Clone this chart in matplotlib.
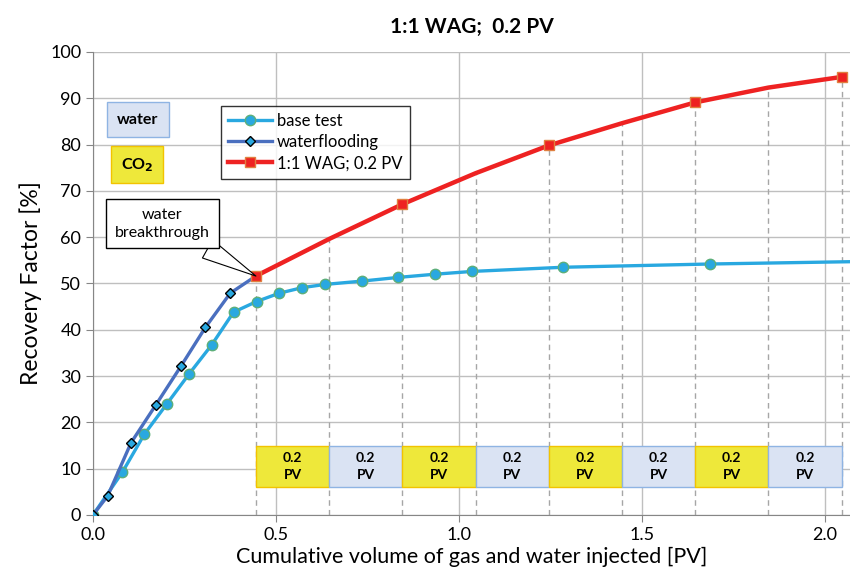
import matplotlib.pyplot as plt

plt.rcParams['font.family'] = ['Lato', 'DejaVu Sans']

# base test (cyan circles)
base_x = [0.0, 0.080, 0.140, 0.201, 0.263, 0.324, 0.384, 0.447, 0.509, 0.572, 0.635,
          0.734, 0.833, 0.935, 1.036, 1.285, 1.686, 2.07]
base_y = [0.0, 9.2, 17.4, 23.9, 30.5, 36.7, 43.8, 46.1, 47.9, 49.1, 49.8,
          50.5, 51.3, 52.0, 52.6, 53.5, 54.2, 54.7]

# waterflooding (diamonds) up to breakthrough
wf_x = [0.0, 0.040, 0.104, 0.172, 0.240, 0.307, 0.375, 0.445]
wf_y = [0.0, 4.1, 15.6, 23.8, 32.1, 40.5, 47.9, 51.6]

# 1:1 WAG, values at every slug boundary (markers every 0.4 PV)
wag_x = [0.445, 0.645, 0.845, 1.045, 1.245, 1.445, 1.645, 1.845, 2.045]
wag_y = [51.6, 59.6, 67.1, 73.8, 79.8, 84.6, 89.1, 92.3, 94.6]

slug_fluid = ['CO2', 'water', 'CO2', 'water', 'CO2', 'water', 'CO2', 'water']
slug_label = '0.2\nPV'

fill = {'CO2': '#EEE83A', 'water': '#DAE3F3'}
edge = {'CO2': '#F2C300', 'water': '#8FB4E3'}

fig = plt.figure(figsize=(8.5, 5.77), dpi=100)
ax = fig.add_axes([0.1094, 0.1075, 0.8906, 0.8025])

# dashed lines at slug boundaries, up to the WAG curve
for x, y in zip(wag_x, wag_y):
    ax.plot([x, x], [0, y], ls=(0, (4, 3)), color='#A6A6A6', lw=1, zorder=1)

# slug boxes
for i, fl in enumerate(slug_fluid):
    x0, x1 = wag_x[i], wag_x[i + 1]
    ax.add_patch(plt.Rectangle((x0, 6), x1 - x0, 9, facecolor=fill[fl],
                               edgecolor=edge[fl], lw=1, zorder=2))
    ax.text((x0 + x1) / 2, 10.5, slug_label, ha='center', va='center',
            fontsize=10, fontweight='bold', linespacing=1.45, zorder=3)

ax.plot(base_x, base_y, color='#29A8E0', lw=2.4, marker='o', ms=7.5,
        mfc='#29A8E0', mec='#5DAF7A', mew=1, markevery=list(range(len(base_x) - 1)),
        label='base test', zorder=4)
ax.plot(wf_x, wf_y, color='#4A6FBF', lw=2.4, marker='D', ms=5.5,
        mfc='#29A8E0', mec='black', mew=1, markevery=list(range(len(wf_x) - 1)),
        label='waterflooding', zorder=5)
ax.plot(wag_x, wag_y, color='#EE2222', lw=3.2, marker='s', ms=7.5,
        mfc='#EE2222', mec='#E08040', mew=1, markevery=2,
        label='1:1 WAG; 0.2 PV', zorder=6)

ax.set_xlim(0, 2.068)
ax.set_ylim(0, 100)
ax.set_xticks([0.0, 0.5, 1.0, 1.5, 2.0])
ax.set_yticks(range(0, 101, 10))
ax.grid(True, color='#BFBFBF', lw=1)
ax.set_axisbelow(True)
for s in ['top', 'right']:
    ax.spines[s].set_visible(False)
for s in ['left', 'bottom']:
    ax.spines[s].set_color('#868686')
ax.tick_params(labelsize=13, color='#868686', length=5)

ax.set_xlabel('Cumulative volume of gas and water injected [PV]', fontsize=15.5, labelpad=3)
ax.set_ylabel('Recovery Factor [%]', fontsize=16.5, labelpad=6)
ax.set_title('1:1 WAG;  0.2 PV', fontsize=15, fontweight='bold', pad=14)

leg = ax.legend(loc='upper left', bbox_to_anchor=(0.158, 0.902), fontsize=12,
                frameon=True, fancybox=False, edgecolor='black', handlelength=2.6,
                borderpad=0.45, labelspacing=0.3, handletextpad=0.3)
leg.get_frame().set_linewidth(1)

ax.text(0.122, 85.4, 'water', ha='center', va='center', fontsize=11.5, fontweight='bold',
        bbox=dict(boxstyle='square,pad=0.65', fc='#DAE3F3', ec='#8FB4E3', lw=1))
ax.text(0.12, 75.6, 'CO$_\\mathbf{2}$', ha='center', va='center', fontsize=11.5,
        fontweight='bold',
        bbox=dict(boxstyle='square,pad=0.6', fc='#EEE83A', ec='#F2C300', lw=1))

ax.annotate('water\nbreakthrough', xy=(wf_x[-1], wf_y[-1]), xytext=(0.19, 62.9),
            ha='center', va='center', fontsize=11.5, linespacing=1.35,
            bbox=dict(boxstyle='square,pad=0.55', fc='white', ec='black', lw=1),
            arrowprops=dict(arrowstyle='wedge,tail_width=1.3,shrink_factor=0.5',
                            fc='white', ec='black', lw=0.8, shrinkA=0, shrinkB=0),
            zorder=7)

fig.savefig('out.png', dpi=100)
